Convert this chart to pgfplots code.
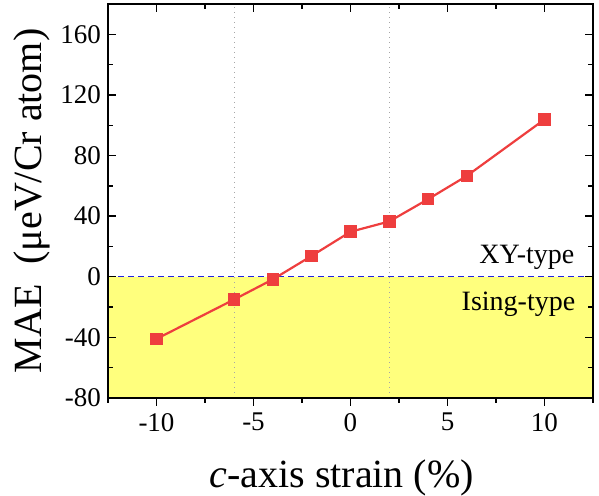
\documentclass[border=0pt]{standalone}
\usepackage{fontspec}
\IfFontExistsTF{LiberationSerif-Regular.ttf}{%
  \setmainfont{LiberationSerif}[Extension=.ttf, UprightFont=*-Regular,
    ItalicFont=*-Italic, BoldFont=*-Bold, BoldItalicFont=*-BoldItalic]}{%
  \setmainfont{Liberation Serif}}
\usepackage{pgfplots}
\pgfplotsset{compat=1.18}
\definecolor{ptred}{RGB}{238,62,62}
\definecolor{bgyellow}{RGB}{255,255,125}
\definecolor{zeroblue}{RGB}{30,30,230}
\begin{document}
\begin{tikzpicture}
\useasboundingbox (0,0) rectangle (299.5pt,248pt);
\begin{axis}[
    at={(54pt,49pt)}, anchor=south west,
    scale only axis,
    width=242.5pt, height=197pt,
    xmin=-12.5, xmax=12.5,
    ymin=-80, ymax=180,
    xtick={-10,-5,0,5,10},
    minor xtick={-12.5,-7.5,-2.5,2.5,7.5,12.5},
    ytick={-80,-40,0,40,80,120,160},
    minor ytick={-60,-20,20,60,100,140,180},
    xtick pos=bottom, xtick align=outside,
    ytick pos=both, ytick align=inside,
    major tick length=4pt, minor tick length=2.5pt,
    every tick/.style={black, line width=0.7pt},
    axis line style={line width=0.8pt},
    axis on top,
    /pgf/number format/assume math mode=true,
    ticklabel style={font=\rmfamily\fontsize{13.5}{15}\selectfont},
    xlabel={\textit{c}-axis strain (\%)},
    ylabel={MAE\ \ (μeV/Cr atom)},
    label style={font=\rmfamily\fontsize{20}{24}\selectfont},
    xlabel style={at={(axis description cs:0.482,-0.226)}, anchor=base},
    ylabel style={at={(axis description cs:-0.157,0.5)}, anchor=center},
    clip=true,
]
% Ising region
\addplot[draw=none, fill=bgyellow] coordinates {
    (-12.5,-80) (12.5,-80) (12.5,0) (-12.5,0) (-12.5,-80)
};
% guide lines
\addplot[gray!70, dotted, line width=0.5pt] coordinates {(-6,-80) (-6,180)};
\addplot[gray!70, dotted, line width=0.5pt] coordinates {(2,-80) (2,180)};
\addplot[zeroblue, densely dashed, line width=0.7pt] coordinates {(-12.5,0) (12.5,0)};
% MAE vs strain
\addplot[ptred, line width=1.1pt, mark=square*, mark size=2.6pt,
    mark options={solid, fill=ptred, draw=ptred}] coordinates {
    (-10,-41) (-6,-15) (-4,-1.7) (-2,13.8) (0,29.7)
    (2,36.5) (4,51.2) (6,66.6) (10,103.8)
};
\node[anchor=base east, font=\rmfamily\fontsize{14}{16}\selectfont] at (axis cs:11.9,9) {XY-type};
\node[anchor=base east, font=\rmfamily\fontsize{14}{16}\selectfont] at (axis cs:11.95,-22) {Ising-type};
\end{axis}
\begin{axis}[
    at={(54pt,49pt)}, anchor=south west,
    scale only axis,
    width=242.5pt, height=197pt,
    xmin=-12.5, xmax=12.5,
    ymin=-80, ymax=180,
    xtick={-10,-5,0,5,10},
    minor xtick={-12.5,-7.5,-2.5,2.5,7.5,12.5},
    ytick=\empty,
    xtick pos=top, xtick align=inside,
    xticklabels={},
    major tick length=4pt, minor tick length=2.5pt,
    every tick/.style={black, line width=0.7pt},
    axis line style={line width=0.8pt},
]
\end{axis}
\end{tikzpicture}
\end{document}
